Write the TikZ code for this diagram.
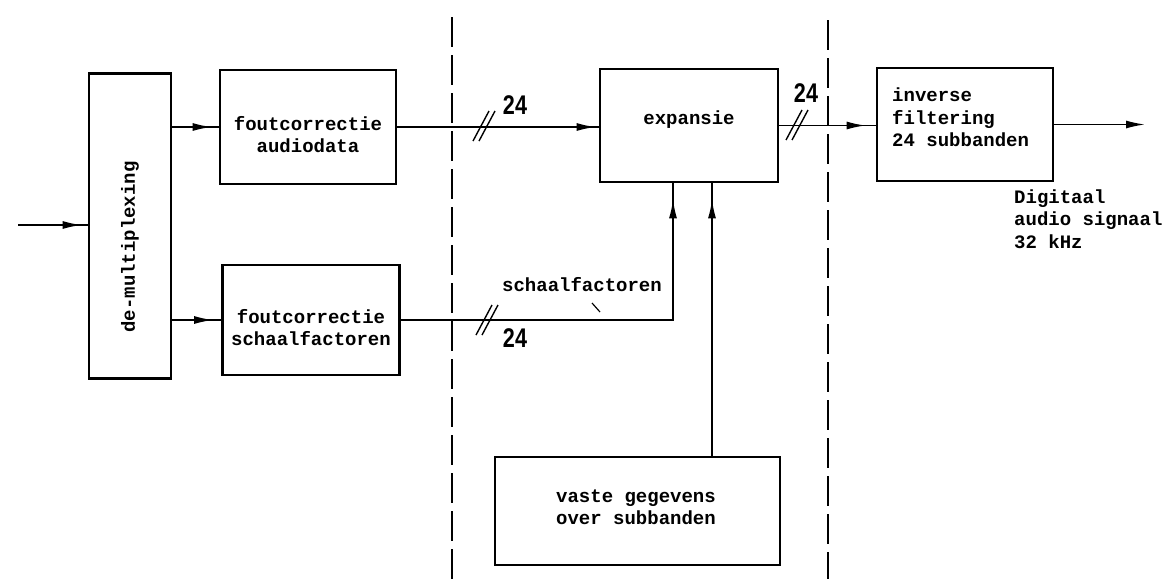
\documentclass[tikz,border=0pt]{standalone}
\usepackage{fontspec}
\newfontfamily\mymono{Liberation Mono}
\newfontfamily\numfont{Liberation Sans}
\usetikzlibrary{arrows.meta,decorations.markings}
\newcommand\mytxt{\mymono\bfseries\fontsize{19}{22.5}\selectfont}
\begin{document}
\begin{tikzpicture}[x=1pt,y=-1pt,
  box/.style={draw,line width=2.8pt,inner sep=0pt},
  conn/.style={line width=1.6pt},
  midtip/.style={postaction={decorate,decoration={markings,mark=at position #1 with {\arrow{Latex[length=19pt,width=8pt]}}}}},
  sep/.style={line width=1.8pt,dash pattern=on 30pt off 8pt},
  txt/.style={font=\mytxt,inner sep=0pt,align=center},
  num/.style={font=\numfont\bfseries\fontsize{27}{27}\selectfont,xscale=0.8,inner sep=0pt},
  dslash/.pic={\draw[line width=1.4pt] (-11,15)--(5,-15); \draw[line width=1.4pt] (-5,15)--(11,-15);}
]
\useasboundingbox (0,0) rectangle (1166,579);
% boxes
\node[box,minimum width=82pt,minimum height=305pt] (demux) at (130,226) {};
\node[box,minimum width=176pt,minimum height=114pt] (audio) at (308,127) {};
\node[box,minimum width=177pt,minimum height=110pt] (schaal) at (311,320) {};
\node[box,minimum width=178pt,minimum height=113pt] (exp) at (689,125.5) {};
\node[box,minimum width=176pt,minimum height=113pt] (inv) at (965,124.5) {};
\node[box,minimum width=285pt,minimum height=108pt] (vaste) at (637.5,511) {};
% box texts
\node[txt,rotate=90] (demuxt) at (130,247) {de-multiplexing};
\node[txt] (audiot) at (308,134.5) {foutcorrectie\\audiodata};
\node[txt] (schaalt) at (311,327.5) {foutcorrectie\\schaalfactoren};
\node[txt] (expt) at (689,120) {expansie};
\node[txt,align=left,anchor=west] (invt) at (892,117.5) {inverse\\filtering\\24 subbanden};
\node[txt] (vastet) at (636,507.5) {vaste gegevens\\over subbanden};
% coordinates
\coordinate (in) at (18,225);
\coordinate (out) at (1145,125);
\coordinate (j1) at (673,0);
\coordinate (j2) at (712,0);
\coordinate (top1) at (452,17);
\coordinate (bot1) at (452,579);
\coordinate (top2) at (828,20);
\coordinate (bot2) at (828,579);
\coordinate (t1) at (592,303);
\coordinate (t2) at (600,312);
% separators
\draw[sep] (top1) -- (bot1);
\draw[sep] (top2) -- (bot2);
% connectors
\draw[conn,midtip=-6pt] (in) -- (demux.west |- in);
\draw[conn,midtip=-7pt] (demux.east |- audio.west) -- (audio.west);
\draw[conn,midtip=-8pt] (demux.east |- schaal.west) -- (schaal.west);
\draw[conn,midtip=-3pt] (audio.east) -- (audio.east -| exp.west);
\draw[conn,midtip=-16pt] (schaal.east) -| (j1 |- exp.south);
\draw[conn,midtip=-16pt] (vaste.north -| j2) -- (j2 |- exp.south);
\draw[conn,midtip=-10pt] (exp.east) -- (exp.east -| inv.west);
\draw[conn,-{Latex[length=19pt,width=8pt]}] (inv.east) -- (inv.east -| out);
% bus marks and labels
\pic (s1) at (484,126) {dslash};
\pic (s2) at (487,320) {dslash};
\pic (s3) at (797,125) {dslash};
\node[num] (n1) at (515,105) {24};
\node[num] (n2) at (515,338) {24};
\node[num] (n3) at (806,93) {24};
\node[txt] (sf) at (582,285) {schaalfactoren};
\draw[line width=1.2pt] (t1) -- (t2);
\node[txt,align=left,anchor=west] (dig) at (1014,219) {Digitaal\\audio signaal\\32 kHz};
\end{tikzpicture}
\end{document}
